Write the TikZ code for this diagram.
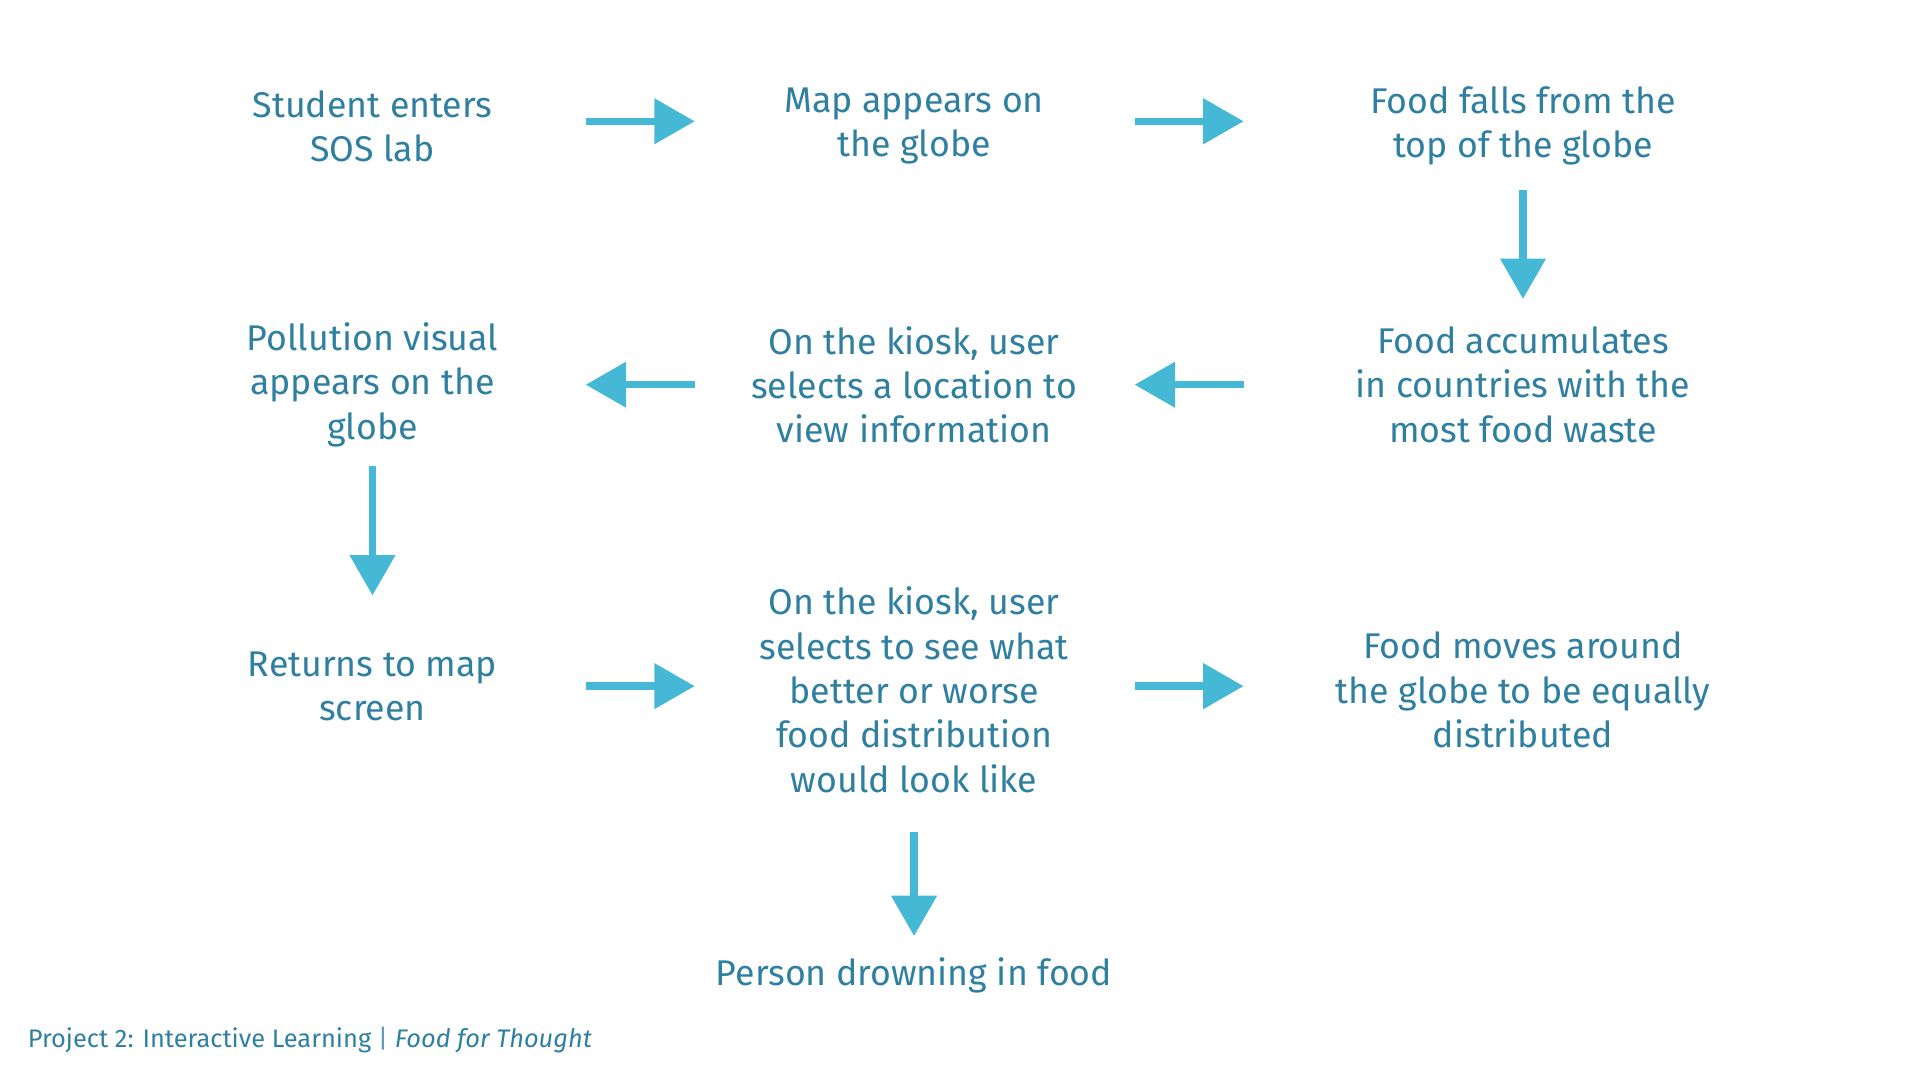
\documentclass[tikz,border=0pt]{standalone}
\usepackage{fontspec}
\setmainfont{Fira Sans}
\usetikzlibrary{arrows.meta}
\definecolor{txtblue}{HTML}{2F7FA0}
\definecolor{arrblue}{HTML}{45B8D5}
\tikzset{
    stepnode/.style={align=center, text=txtblue, font=\fontsize{8.3}{10.3}\selectfont},
    flow/.style={arrblue, line width=0.06cm, -{Triangle[width=0.36cm,length=0.33cm]}}
}
\begin{document}
\begin{tikzpicture}
    \useasboundingbox (0,0) rectangle (15.67,-8.815);
    %row one
    \node[stepnode] (enter) at (3.04,-1.03) {Student enters\\SOS lab};
    \node[stepnode] (map) at (7.46,-1.03) {Map appears on\\the globe};
    \node[stepnode] (falls) at (12.43,-1.03) {Food falls from the\\top of the globe};
    %row two
    \node[stepnode] (pollution) at (3.04,-3.14) {Pollution visual\\appears on the\\globe};
    \node[stepnode] (kiosk) at (7.46,-3.14) {On the kiosk, user\\selects a location to\\view information};
    \node[stepnode] (accum) at (12.43,-3.14) {Food accumulates\\in countries with the\\most food waste};
    %row three
    \node[stepnode] (returns) at (3.04,-5.6) {Returns to map\\screen};
    \node[stepnode] (better) at (7.46,-5.63) {On the kiosk, user\\selects to see what\\better or worse\\food distribution\\would look like};
    \node[stepnode] (moves) at (12.43,-5.63) {Food moves around\\the globe to be equally\\distributed};
    \node[stepnode] (drown) at (7.46,-7.96) {Person drowning in food};
    %arrows
    \coordinate (e1) at ([yshift=0.04cm]enter.center);
    \coordinate (m1) at ([yshift=0.04cm]map.center);
    \coordinate (f1) at ([yshift=0.04cm]falls.center);
    \draw[flow, shorten <=1.74cm, shorten >=1.79cm] (e1) -- (m1);
    \draw[flow, shorten <=1.80cm, shorten >=2.28cm] (m1) -- (f1);
    \draw[flow, shorten <=0.52cm, shorten >=0.70cm] (falls.center) -- (accum.center);
    \draw[flow, shorten <=2.28cm, shorten >=1.80cm] (accum.center) -- (kiosk.center);
    \draw[flow, shorten <=1.79cm, shorten >=1.74cm] (kiosk.center) -- (pollution.center);
    \draw[flow, shorten <=0.66cm, shorten >=0.74cm] (pollution.center) -- (pollution.center |- returns.center);
    \draw[flow, shorten <=1.74cm, shorten >=1.79cm] (returns.center) -- (better.center |- returns.center);
    \draw[flow, shorten <=1.80cm, shorten >=2.28cm] (better.center |- returns.center) -- (moves.center |- returns.center);
    \draw[flow, shorten <=1.16cm, shorten >=0.32cm] (better.center) -- (drown.center);
    %footer
    \node[anchor=west, text=txtblue, font=\fontsize{5.9}{7}\selectfont, inner sep=0pt] (foot) at (0.22,-8.49) {Project 2: Interactive Learning \textcolor{txtblue!80}{|} \textit{Food for Thought}};
\end{tikzpicture}
\end{document}
